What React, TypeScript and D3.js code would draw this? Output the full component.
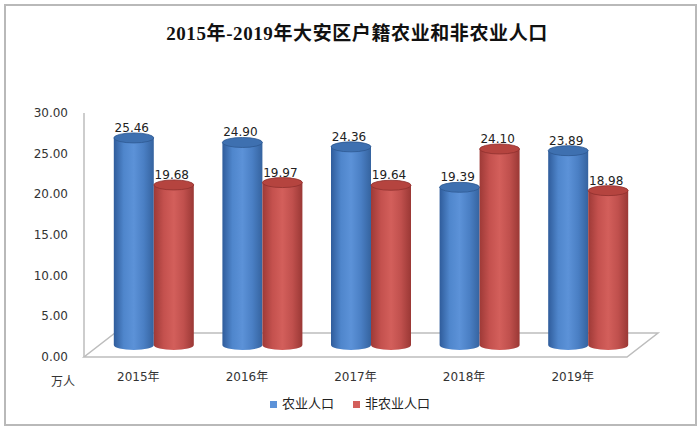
import React from 'react';
import * as d3 from 'd3';

const years = ['2015年', '2016年', '2017年', '2018年', '2019年'];
const farmPop = [25.46, 24.9, 24.36, 19.39, 23.89];
const nonFarmPop = [19.68, 19.97, 19.64, 24.1, 18.98];
const seriesNames = ['农业人口', '非农业人口'];
const yTicks = [0, 5, 10, 15, 20, 25, 30];

const W = 700;
const H = 432;
const left = 84;
const right = 627;
const base = 357;
const top = 113;
const depth = { dx: 31, dy: -24 };

const sans = '"DejaVu Sans", "Noto Sans CJK SC", sans-serif';

const palette = [
  { id: 'blue', stops: ['#2f5c9b', '#4f86cc', '#5c92d8', '#4a7fc4', '#35639f'], top: '#3e70b0', rim: '#2d5890' },
  { id: 'red', stops: ['#9e3a37', '#c4514e', '#d35f5b', '#c0504d', '#9a3835'], top: '#b5443f', rim: '#8e302d' },
];

export default function App() {
  const x = d3.scaleBand<string>().domain(years).range([left, right]).paddingInner(0).paddingOuter(0);
  const y = d3.scaleLinear().domain([0, 30]).range([base, top]);
  const barW = 40;
  const ry = 5;
  const offX = depth.dx / 2;
  const offY = depth.dy / 2;

  const series = [farmPop, nonFarmPop];

  return (
    <svg width={W} height={H} style={{ position: 'absolute', left: 0, top: 0 }}>
      <defs>
        {palette.map(p => (
          <linearGradient key={p.id} id={`g-${p.id}`} x1="0" x2="1" y1="0" y2="0">
            {p.stops.map((c, i) => (
              <stop key={i} offset={`${(i / (p.stops.length - 1)) * 100}%`} stopColor={c} />
            ))}
          </linearGradient>
        ))}
      </defs>
      <rect x={0} y={0} width={W} height={H} fill="#fff" />
      <rect x={5} y={5} width={691} height={420} fill="#fff" stroke="#b9b9b9" strokeWidth={2} />

      <text x={357} y={40} textAnchor="middle" fontFamily='"Liberation Serif", "Noto Sans CJK SC", serif'
        fontWeight="bold" fontSize={19} letterSpacing={0.6} fill="#111">
        2015年-2019年大安区户籍农业和非农业人口
      </text>

      {/* floor */}
      <path
        d={`M${left},${base} L${right},${base} L${right + depth.dx},${base + depth.dy} L${left + depth.dx},${base + depth.dy} Z`}
        fill="#fff" stroke="#bdbdbd" strokeWidth={1.5}
      />
      <line x1={left} x2={left} y1={base} y2={top} stroke="#bdbdbd" strokeWidth={1.5} />

      {yTicks.map(t => (
        <text key={t} x={68} y={y(t) + 4} textAnchor="end" fontFamily={sans} fontSize={12} fill="#333">
          {t.toFixed(2)}
        </text>
      ))}
      <text x={63} y={386} textAnchor="middle" fontFamily={sans} fontSize={12} fill="#333">万人</text>

      {years.map(yr => (
        <text key={yr} x={(x(yr) ?? 0) + x.bandwidth() / 2} y={381} textAnchor="middle" fontFamily={sans}
          fontSize={12} fill="#333">
          {yr}
        </text>
      ))}

      {years.map((yr, i) => {
        const cx0 = (x(yr) ?? 0) + x.bandwidth() / 2 + offX;
        return series.map((s, k) => {
          const p = palette[k];
          const bx = cx0 - barW + k * barW;
          const cx = bx + barW / 2;
          const yb = y(0) + offY;
          const yt = y(s[i]) + offY;
          const rx = barW / 2;
          const body = `M${bx},${yt} L${bx},${yb} A${rx},${ry} 0 0 0 ${bx + barW},${yb} L${bx + barW},${yt} Z`;
          return (
            <g key={`${yr}-${k}`}>
              <path d={body} fill={`url(#g-${p.id})`} />
              <ellipse cx={cx} cy={yt} rx={rx} ry={ry} fill={p.top} stroke={p.rim} strokeWidth={0.8} />
              <text x={cx - 2} y={yt - 6} textAnchor="middle" fontFamily={sans} fontSize={12} fill="#222">
                {s[i].toFixed(2)}
              </text>
            </g>
          );
        });
      })}

      {seriesNames.map((n, k) => {
        const lx = k === 0 ? 270 : 353;
        return (
          <g key={n}>
            <rect x={lx} y={401} width={7} height={7} fill={palette[k].stops[2]} />
            <text x={lx + 12} y={408} fontFamily='"Noto Sans CJK SC", sans-serif' fontSize={13} fill="#222">{n}</text>
          </g>
        );
      })}
    </svg>
  );
}
